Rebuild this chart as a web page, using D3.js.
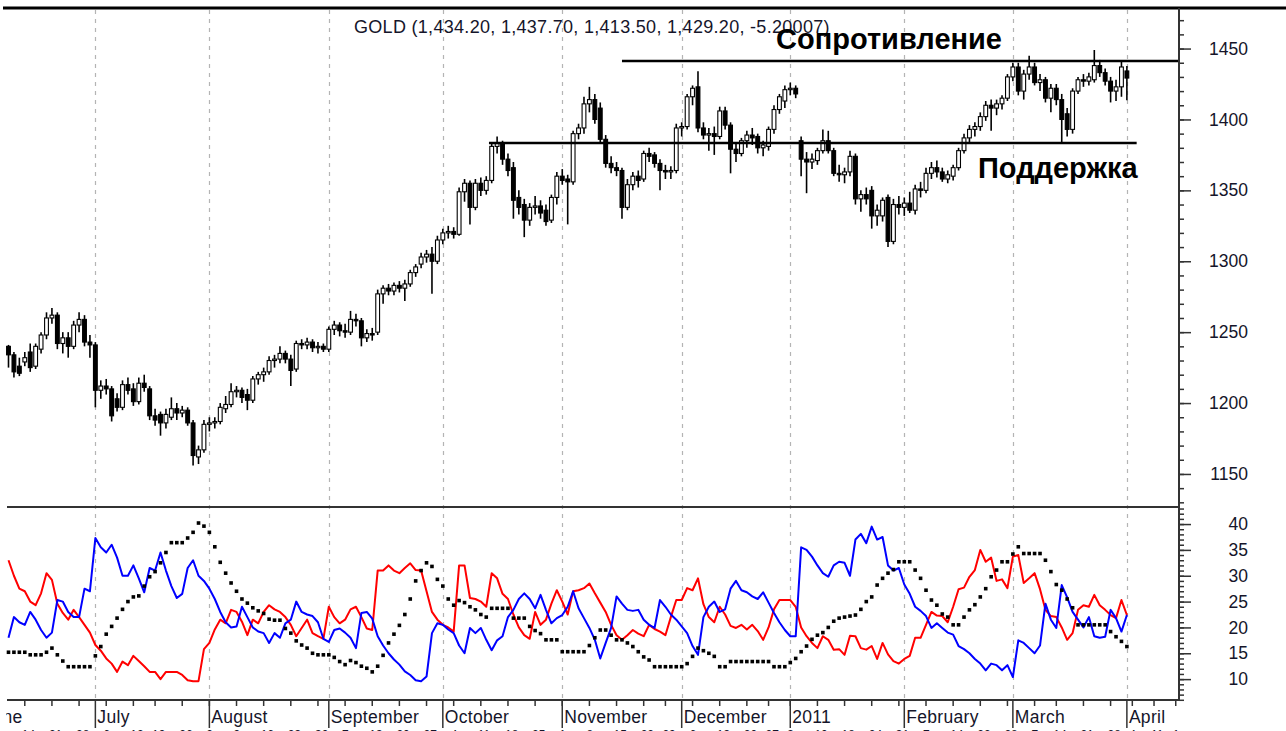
<!DOCTYPE html>
<html>
<head>
<meta charset="utf-8">
<script src="https://cdn.jsdelivr.net/npm/d3@7"></script>
<style>
  body { margin: 0; background: #fff; }
  svg { display: block; }
  text { font-family: "Liberation Sans", Arial, sans-serif; }
</style>
</head>
<body>
<svg width="1286" height="731"></svg>
<script>
// daily gold bars, 9 Jun 2010 .. 1 Apr 2011
var opens = [1240,1234,1226,1229,1236,1226,1238,1248,1260,1262,1242,1246,1240,1255,1259,1243,
  1241,1209,1212,1210,1203,1197,1213,1210,1201,1214,1210,1191,1192,1186,1190,1196,1193,1195,1186,1162,1167,
  1185,1186,1187,1196,1199,1208,1209,1206,1202,1217,1220,1222,1230,1231,1235,1231,1224,1242,1241,1243,1239,1240,
  1238,1252,1255,1251,1250,1259,1258,1246,1249,1250,1277,1281,1279,1283,1281,1284,1292,1298,1303,1305,1300,
  1315,1320,1321,1319,1349,1355,1338,1355,1350,1357,1381,1383,1372,1366,1345,1340,1329,1338,1339,1336,1329,1345,
  1360,1358,1356,1390,1394,1411,1414,1408,1386,1369,1366,1364,1338,1354,1360,1358,1376,1375,1369,1364,1363,1364,
  1394,1395,1416,1423,1394,1389,1390,1388,1406,1396,1379,1376,1385,1389,1388,1380,1381,1393,1407,1413,
  1421,1422,1385,1372,1370,1371,1378,1385,1378,1362,1361,1363,1374,1344,1347,1350,1332,1332,1345,1314,1340,
  1338,1341,1336,1351,1350,1362,1366,1363,1358,1360,1366,1378,1387,1393,1395,1402,1410,1408,1411,1415,
  1430,1437,1420,1432,1437,1426,1428,1415,1422,1414,1404,1393,1420,1428,1427,1428,1438,1433,1427,1420,1423,
  1434.2]
var highs = [1241,1236,1232,1236,1242,1242,1250,1264,1267,1264,1250,1250,1258,1264,1262,1248,
  1243,1216,1217,1212,1207,1216,1218,1214,1218,1220,1212,1196,1194,1196,1204,1200,1198,1197,1188,1170,1188,
  1190,1190,1200,1205,1214,1212,1211,1210,1219,1222,1225,1233,1234,1240,1237,1234,1244,1245,1246,1245,1243,1242,
  1254,1258,1257,1256,1265,1263,1260,1252,1253,1280,1283,1284,1285,1286,1287,1294,1298,1306,1308,1310,1318,
  1323,1325,1324,1352,1358,1357,1358,1359,1360,1384,1388,1385,1376,1370,1350,1344,1341,1346,1343,1340,1347,1363,
  1365,1361,1392,1397,1416,1423,1418,1412,1389,1374,1370,1366,1358,1363,1364,1378,1380,1377,1372,1368,1367,1397,
  1398,1418,1424,1434,1398,1394,1395,1409,1409,1398,1384,1387,1392,1394,1390,1385,1395,1410,1418,1424,
  1426,1424,1388,1377,1376,1380,1393,1392,1380,1368,1366,1378,1376,1350,1352,1353,1340,1345,1347,1344,1346,
  1345,1349,1354,1356,1366,1370,1371,1366,1364,1368,1380,1390,1396,1398,1405,1413,1414,1414,1417,1432,
  1440,1440,1435,1445,1440,1432,1430,1425,1425,1418,1408,1422,1430,1432,1433,1449,1442,1436,1430,1428,1441,
  1437.7]
var lows = [1225,1218,1219,1226,1222,1224,1235,1245,1256,1238,1235,1232,1238,1250,1240,1232,
  1197,1203,1206,1187,1194,1195,1206,1198,1199,1208,1188,1184,1177,1182,1188,1188,1190,1184,1156,1157,1165,
  1180,1182,1185,1193,1197,1204,1200,1195,1200,1213,1215,1220,1225,1228,1228,1212,1222,1238,1238,1236,1235,1236,
  1236,1248,1247,1246,1248,1254,1240,1243,1244,1248,1270,1276,1276,1278,1272,1282,1289,1295,1299,1277,1298,
  1312,1316,1316,1318,1342,1326,1336,1346,1347,1355,1376,1368,1360,1330,1333,1317,1325,1333,1330,1325,1327,1340,
  1354,1326,1354,1386,1390,1405,1397,1383,1366,1362,1360,1330,1336,1350,1352,1356,1370,1366,1350,1358,1358,1362,
  1388,1393,1410,1391,1386,1378,1375,1386,1393,1362,1370,1374,1380,1382,1376,1374,1378,1390,1404,1408,
  1417,1415,1360,1348,1365,1368,1376,1376,1360,1356,1355,1360,1340,1335,1340,1323,1325,1328,1310,1312,1333,
  1332,1334,1333,1345,1348,1358,1359,1356,1355,1357,1364,1376,1384,1388,1392,1399,1392,1403,1407,1413,
  1427,1417,1414,1428,1424,1420,1412,1405,1410,1383,1388,1390,1418,1423,1424,1426,1430,1424,1412,1413,1416,
  1413.5]
var closes = [1234,1222,1221,1232,1225,1240,1248,1260,1262,1242,1246,1240,1255,1259,1243,1241,
  1209,1212,1210,1191,1197,1213,1209,1201,1214,1211,1191,1188,1186,1192,1196,1193,1195,1186,1163,1167,1185,
  1186,1187,1197,1199,1208,1209,1204,1202,1217,1220,1222,1230,1231,1235,1231,1223,1242,1241,1243,1239,1240,1238,
  1252,1255,1251,1250,1259,1258,1246,1249,1248,1277,1281,1279,1283,1281,1284,1292,1296,1303,1305,1300,1315,
  1320,1321,1319,1349,1355,1338,1355,1350,1357,1381,1383,1372,1364,1343,1338,1329,1338,1339,1334,1328,1345,1360,
  1357,1356,1390,1394,1411,1414,1400,1386,1369,1366,1364,1338,1354,1360,1357,1376,1374,1369,1364,1363,1364,1394,
  1395,1416,1422,1394,1389,1390,1388,1406,1396,1379,1376,1385,1389,1387,1380,1382,1393,1407,1416,1421,
  1422,1418,1372,1370,1372,1378,1385,1378,1362,1361,1363,1374,1344,1347,1344,1332,1336,1343,1314,1340,1338,
  1341,1336,1351,1350,1362,1366,1363,1358,1361,1366,1378,1387,1393,1395,1402,1410,1408,1411,1415,1430,
  1437,1420,1432,1437,1426,1428,1415,1422,1414,1400,1393,1420,1428,1427,1430,1438,1433,1427,1420,1423,1437,
  1429.2]
var last_change = -5.20007

// directional movement: +DI (blue), -DI (red), ADX (black dots)
var plus_di = [18,22,21,20.5,23,21.5,19.5,18,19,25.3,25,23,22,22,27.5,27,
  37.3,35.5,34.5,36,33.5,30,30,32,29.5,26.8,31.5,31,34.5,31,28,25.7,26.5,31.5,33,30,29,
  27.5,25.5,23,21,20,20.2,24,22,20,19.2,18.9,17,18.9,18,20.8,21.5,25,23,22.5,22.2,21,17.8,
  17.2,19.5,19.8,19,18,16,22.8,23,21.7,18.3,16.5,15,13.8,12.8,11.5,10.8,9.8,9.6,10.5,18.9,20.8,
  20.5,19.6,18.9,16.5,15,19.9,18.9,19.9,17.6,15.6,17.5,18.3,22,23.4,25.5,26.6,25.5,23.7,26.3,23.4,20.8,21.8,
  22.4,24,27,23.7,21.8,19.9,17.6,14,17,19.9,26,24.6,23.4,23.2,23.4,21.5,20.5,19.9,25.3,24,22.5,21.5,
  20.2,18.9,16.4,14.7,22,24,25,23,23.5,27.5,29,27.2,26.8,26,25.5,26.8,24.8,22.8,21,19.5,
  18.3,18.3,35.5,35,33.7,32,30.5,29.8,32,32.7,32.5,30,37,38.1,36.3,39.5,37,37.5,32,31,31.5,
  28.3,26.5,24,23.2,22.2,19.9,20.8,19.9,19,18.6,16.4,15.8,15,13.9,13,11.7,13,12.7,11.7,12.7,
  10.4,17.5,17,16,15,16.5,24.6,21.5,19.9,28.2,25.8,23,21.5,20,22,18.3,18,18.2,23.4,21.8,19.2,
  22.4]
var minus_di = [33,30,27.5,27,25,24.3,26.6,30.5,29.2,24.6,22.8,21.5,23.4,22,20.5,19,
  16.6,15.5,14,13,11.4,13.4,12.7,14.5,13.5,12.5,11.4,11.4,10,11.4,11.4,11.4,10.8,9.8,9.6,9.6,15.8,
  17,19.6,21.5,20.8,23.4,23,21.1,18.5,21.5,20.8,23,24.3,23.5,23,22,20.5,18.3,19.9,21.5,18.9,18.3,17.8,
  24,22,20.8,21.5,23.5,24,22,19.8,19.5,31,31,32,31,30.5,31.5,32.4,31.1,31,27,23,21.5,
  20.5,20,19.2,32,32,25.7,25.5,25,24,30.5,29.5,26.5,25.5,22.5,20,18.5,17.8,23,20.5,21.5,24.6,27.2,
  25,22.5,27,27.2,27.6,28.5,26.6,24.8,23,20.5,18.5,17.6,18.5,19.5,18.8,18.3,20.5,19.7,19.2,18.5,22,25.3,
  25.3,27.6,27.2,29.5,24.5,22,21,24,22.5,20.3,19.9,20.5,19.6,20.5,19.3,17.6,20,23.5,25.3,25.3,
  25.3,24,20,18.3,17,16,18.3,17.6,15.7,15.8,14.7,18.4,18.3,16,15.7,16.4,13.9,17,14.8,13.5,13,
  13.9,14.5,18,18,20.5,23,22.3,22.2,21,24,27.4,27.7,29.8,31.1,35,32.7,33.5,29,29.3,27.6,
  33.7,34,28.6,29.5,30.5,27.4,23.4,22.2,22,20,17.6,18.9,23.4,24.3,24,26.3,24.3,23.4,22.4,21.8,25.3,
  22.4]
var adx = [15.2,15.2,15.2,15.2,14.7,14.7,14.7,15.2,16,14.7,13.5,12.4,12.4,12.4,12.4,12.4,
  14.5,16.3,18.7,20.2,21.8,23.5,25,25.9,26.1,28,29.8,30.8,32.5,34.5,36.4,36.4,36.4,37.3,38.4,40.2,39.6,
  38.4,35.6,32.6,30.5,28.6,27,25.5,24.7,23.8,23.2,22.7,21.6,21.4,21.4,19.8,18.9,17.4,16.6,16,15,14.7,14.7,
  14.7,14.2,13.4,12.8,13.6,13.2,12.5,12.1,11.4,12.5,14.6,17,18.7,20.4,22.5,25.5,29,31,32.5,31.8,29.3,
  28,25.5,24.3,25.2,24.8,24,23.4,22.5,22,23.7,23.7,23.7,23.7,21.8,21.8,21.8,20.2,19.4,18.8,17.6,17.6,17.6,
  15.3,15.3,15.3,15.3,15.3,16.5,18,19.5,19.5,18.5,17.6,17.6,17,16.3,15.3,14.3,13.7,12.4,12.4,12.4,12.4,12.4,
  12.4,13,14.4,16,15.5,15,14.4,12.4,12.4,13.4,13.4,13.4,13.4,13.4,13.4,13.4,13.4,12.4,12.4,12.4,
  13.2,14,15.3,16.4,17.7,18.5,19,20,21.2,21.8,22,22.2,22.4,23.5,25,25.9,28.2,29.5,30.5,31.2,32.7,
  32.7,32.7,31.1,29.5,27.2,25.3,24.3,22.6,22,20.5,20.5,22,23.4,24.4,25.9,27.5,29.8,31.1,32.7,32.7,
  34.2,35.6,34.3,34.3,34.3,34.3,33,30.8,28.3,27.2,25.5,23.8,20.5,20.5,20.5,20.5,20.5,20.5,19.2,18.2,17.3,
  16.3]

// axis categories
var month_names = ["June", "July", "August", "September", "October", "November", "December", "2011", "February", "March", "April"]
var month_bars = [-5, 16, 37, 59, 80, 102, 124, 144, 165, 185, 206]
var week_bars = [3,8,13,18,23,27,32,37,42,47,52,57,62,67,72,77,82,87,92,97,102,107,112,117,121,126,131,136,140,144,149,154,159,164,169,174,179,184,189,193,198,203,207,211,215]
var week_days = ["14","21","28","6","12","19","26","2","9","16","23","30","7","13","20","27","4","11","18","25","1","8","15","22","29","6","13","20","27","3","10","18","24","31","7","14","22","28","7","14","21","28","4","11","18"]
var price_labels = [1150, 1200, 1250, 1300, 1350, 1400, 1450]
var di_labels = [10, 15, 20, 25, 30, 35, 40]

// drawn levels: [price, from bar, to bar]
var resistance = [1441.2, 113, 215.6]
var support = [1383.4, 88.5, 207.8]

var svg = d3.select('svg')

var x = d3.scaleLinear().domain([0, 215.6]).range([8.5, 1179])
var yP = d3.scaleLinear().domain([1126.7, 1478.6]).range([507, 8])
var yI = d3.scaleLinear().domain([5.96, 43.3]).range([700, 507])

svg.append('defs').append('clipPath').attr('id', 'plot')
  .append('rect').attr('x', 6).attr('y', 8).attr('width', 1173).attr('height', 692)
svg.append('defs').append('clipPath').attr('id', 'under')
  .append('rect').attr('x', 6).attr('y', 700).attr('width', 1173).attr('height', 31)

// month grid
var grid = svg.append('g').attr('clip-path', 'url(#plot)')
grid.selectAll('line')
  .data(month_bars.slice(1))
  .enter()
  .append('line')
  .attr('x1', (d) => Math.round(x(d)) + 0.5)
  .attr('x2', (d) => Math.round(x(d)) + 0.5)
  .attr('y1', 10)
  .attr('y2', 700)
  .attr('stroke', '#b4b4b4')
  .attr('stroke-width', 1.2)
  .attr('stroke-dasharray', '4,5')

// header
var fmt = d3.format(',.2f')
var n = closes.length - 1
svg.append('text')
  .attr('x', 354)
  .attr('y', 33)
  .attr('font-size', 18)
  .attr('letter-spacing', 0.3)
  .attr('fill', '#15152a')
  .text('GOLD (' + fmt(opens[n]) + ', ' + fmt(highs[n]) + ', ' + fmt(lows[n]) + ', ' + fmt(closes[n]) + ', ' + last_change + ')')

// candles
var bars = svg.append('g').attr('clip-path', 'url(#plot)')
var idx = d3.range(closes.length)

bars.selectAll('.wick')
  .data(idx)
  .enter()
  .append('line')
  .attr('class', 'wick')
  .attr('x1', (i) => x(i))
  .attr('x2', (i) => x(i))
  .attr('y1', (i) => yP(highs[i]))
  .attr('y2', (i) => yP(lows[i]))
  .attr('stroke', '#000')
  .attr('stroke-width', 1.6)

bars.selectAll('.body')
  .data(idx)
  .enter()
  .append('rect')
  .attr('class', 'body')
  .attr('x', (i) => x(i) - 1.9)
  .attr('y', (i) => yP(Math.max(opens[i], closes[i])))
  .attr('width', 3.8)
  .attr('height', (i) => Math.max(1, Math.abs(yP(opens[i]) - yP(closes[i]))))
  .attr('fill', (i) => closes[i] >= opens[i] ? '#fff' : '#000')
  .attr('stroke', '#000')
  .attr('stroke-width', 1.1)

// support / resistance
;[resistance, support].forEach(function(lv) {
  svg.append('line')
    .attr('x1', x(lv[1]))
    .attr('x2', x(lv[2]))
    .attr('y1', yP(lv[0]))
    .attr('y2', yP(lv[0]))
    .attr('stroke', '#000')
    .attr('stroke-width', 2.4)
})

svg.append('text')
  .attr('x', 776)
  .attr('y', 49)
  .attr('font-size', 29)
  .attr('font-weight', 'bold')
  .attr('fill', '#000')
  .text('Сопротивление')

svg.append('text')
  .attr('x', 978)
  .attr('y', 178)
  .attr('font-size', 29)
  .attr('font-weight', 'bold')
  .attr('fill', '#000')
  .text('Поддержка')

// indicator panel
var ind = svg.append('g').attr('clip-path', 'url(#plot)')
var line = d3.line().x((d, i) => x(i)).y((d) => yI(d))

ind.append('path')
  .datum(minus_di)
  .attr('d', line)
  .attr('fill', 'none')
  .attr('stroke', '#ff0000')
  .attr('stroke-width', 2)
  .attr('stroke-linejoin', 'round')

ind.append('path')
  .datum(plus_di)
  .attr('d', line)
  .attr('fill', 'none')
  .attr('stroke', '#0000ff')
  .attr('stroke-width', 2)
  .attr('stroke-linejoin', 'round')

ind.selectAll('.adx')
  .data(adx)
  .enter()
  .append('rect')
  .attr('class', 'adx')
  .attr('x', (d, i) => x(i) - 1.8)
  .attr('y', (d) => yI(d) - 1.8)
  .attr('width', 3.6)
  .attr('height', 3.6)
  .attr('fill', '#000')

// frame lines
var axisColor = '#333'
svg.append('line').attr('x1', 3).attr('x2', 1286).attr('y1', 8).attr('y2', 8)
  .attr('stroke', '#000').attr('stroke-width', 3)
svg.append('line').attr('x1', 7).attr('x2', 1179).attr('y1', 507).attr('y2', 507)
  .attr('stroke', axisColor).attr('stroke-width', 2)
svg.append('line').attr('x1', 7).attr('x2', 1179).attr('y1', 700).attr('y2', 700)
  .attr('stroke', axisColor).attr('stroke-width', 2)

// price axis
var pAxis = svg.append('g').attr('transform', 'translate(1179,0)')
pAxis.append('g')
  .call(d3.axisRight(yP).tickValues(d3.range(1130, 1471, 10)).tickSize(5).tickFormat(''))
pAxis.append('g')
  .call(d3.axisRight(yP).tickValues(price_labels).tickSize(12).tickFormat(d3.format('d')))
pAxis.selectAll('.domain').attr('stroke', axisColor).attr('stroke-width', 2)
  .attr('d', 'M0,8V507')
pAxis.selectAll('line').attr('stroke', axisColor).attr('stroke-width', 1.5)
pAxis.selectAll('text')
  .attr('x', 69)
  .attr('text-anchor', 'end')
  .attr('font-size', 17.5)
  .attr('fill', '#15152a')
  .style('font-family', '"Liberation Sans", Arial, sans-serif')

// indicator axis
var iAxis = svg.append('g').attr('transform', 'translate(1179,0)')
iAxis.append('g')
  .call(d3.axisRight(yI).tickValues(d3.range(6, 44, 1)).tickSize(5).tickFormat(''))
iAxis.append('g')
  .call(d3.axisRight(yI).tickValues(di_labels).tickSize(12).tickFormat(d3.format('d')))
iAxis.selectAll('.domain').attr('stroke', axisColor).attr('stroke-width', 2)
  .attr('d', 'M0,507V700')
iAxis.selectAll('line').attr('stroke', axisColor).attr('stroke-width', 1.5)
iAxis.selectAll('text')
  .attr('x', 69)
  .attr('text-anchor', 'end')
  .attr('font-size', 17.5)
  .attr('fill', '#15152a')
  .style('font-family', '"Liberation Sans", Arial, sans-serif')

// time axis
var tAxis = svg.append('g').attr('clip-path', 'url(#under)')
tAxis.selectAll('.wk')
  .data(week_bars)
  .enter()
  .append('line')
  .attr('class', 'wk')
  .attr('x1', (d) => x(d))
  .attr('x2', (d) => x(d))
  .attr('y1', 700)
  .attr('y2', 706)
  .attr('stroke', axisColor)
  .attr('stroke-width', 1.5)

tAxis.selectAll('.mo')
  .data(month_bars)
  .enter()
  .append('line')
  .attr('class', 'mo')
  .attr('x1', (d) => x(d))
  .attr('x2', (d) => x(d))
  .attr('y1', 700)
  .attr('y2', 728)
  .attr('stroke', axisColor)
  .attr('stroke-width', 1.5)

tAxis.selectAll('.mlabel')
  .data(month_names)
  .enter()
  .append('text')
  .attr('class', 'mlabel')
  .attr('x', (d, i) => x(month_bars[i]) + 2)
  .attr('y', 723)
  .attr('font-size', 17.5)
  .attr('letter-spacing', 0.3)
  .attr('fill', '#15152a')
  .text((d) => d)

tAxis.selectAll('.dlabel')
  .data(week_days)
  .enter()
  .append('text')
  .attr('class', 'dlabel')
  .attr('x', (d, i) => x(week_bars[i]) - 3)
  .attr('y', 739)
  .attr('font-size', 12)
  .attr('fill', '#15152a')
  .text((d) => d)
</script>
</body>
</html>
